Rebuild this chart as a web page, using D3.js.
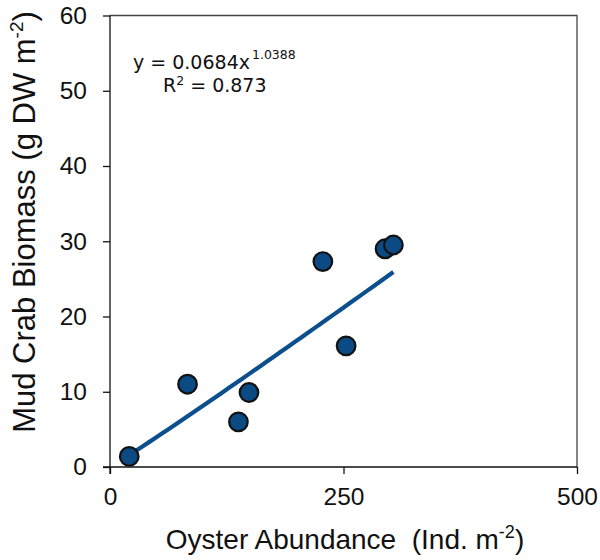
<!DOCTYPE html>
<html>
<head>
<meta charset="utf-8">
<script src="https://cdn.jsdelivr.net/npm/d3@7"></script>
<style>
  html, body { margin: 0; padding: 0; background: #fff; }
  svg { display: block; }
  text { white-space: pre; }
</style>
</head>
<body>
<svg id="chart" width="600" height="560"></svg>
<script>
// Oyster abundance (Ind. m^-2) vs. mud crab biomass (g DW m^-2)
const oysterAbundance = [20.6, 83.0, 137.5, 148.8, 227.9, 252.8, 294.5, 303.4];
const crabBiomass     = [1.4, 11.0, 6.0, 9.9, 27.3, 16.1, 29.0, 29.5];
const xTicks = [0, 250, 500];
const yTicks = [0, 10, 20, 30, 40, 50, 60];
// Power-law fit y = a * x^b
const fitA = 0.0684, fitB = 1.0388, fitR2 = 0.873;

const svg = d3.select("#chart");
const plotLeft = 110, plotRight = 577, plotTop = 15.5, plotBottom = 467;

const x = d3.scaleLinear().domain([0, 500]).range([plotLeft, plotRight]);
const y = d3.scaleLinear().domain([0, 60]).range([plotBottom, plotTop]);

const tickFont = "Liberation Sans, Arial, sans-serif";

// Frame (top and right edges)
svg.append("path")
  .attr("d", `M${plotLeft},${plotTop}H${plotRight}V${plotBottom}`)
  .attr("fill", "none").attr("stroke", "#444").attr("stroke-width", 1.3);

// Axes
const xAxis = svg.append("g").attr("transform", `translate(0,${plotBottom})`)
  .call(d3.axisBottom(x).tickValues(xTicks).tickSize(7).tickPadding(14).tickSizeOuter(0));
const yAxis = svg.append("g").attr("transform", `translate(${plotLeft},0)`)
  .call(d3.axisLeft(y).tickValues(yTicks).tickSize(7).tickPadding(16).tickSizeOuter(0));

[xAxis, yAxis].forEach(g => {
  g.select(".domain").attr("stroke", "#111").attr("stroke-width", 1.3);
  g.selectAll(".tick line").attr("stroke", "#111").attr("stroke-width", 1.3);
  g.selectAll(".tick text").attr("font-family", tickFont).attr("font-size", 24.5).attr("fill", "#111");
});
// Axis lines cross slightly past the origin
yAxis.select(".domain").attr("d", `M0,${plotTop}V${plotBottom + 7}`);
xAxis.select(".domain").attr("d", `M${plotLeft - 7},0H${plotRight}`);

// Trend line over the observed range
const xr = d3.extent(oysterAbundance);
const fitPts = d3.range(0, 41).map(i => {
  const xv = xr[0] + (xr[1] - xr[0]) * i / 40;
  return [xv, fitA * Math.pow(xv, fitB)];
});
svg.append("path")
  .datum(fitPts)
  .attr("d", d3.line().x(d => x(d[0])).y(d => y(d[1])))
  .attr("fill", "none").attr("stroke", "#0b4f8c").attr("stroke-width", 4.2);

// Data points
svg.append("g").selectAll("circle")
  .data(oysterAbundance.map((v, i) => [v, crabBiomass[i]]))
  .join("circle")
  .attr("cx", d => x(d[0])).attr("cy", d => y(d[1]))
  .attr("r", 9.3)
  .attr("fill", "#0b4a82").attr("stroke", "#111").attr("stroke-width", 2.2);

// Equation annotation
const eqFont = "'DejaVu Sans', sans-serif";
const eq = svg.append("text").attr("x", 133).attr("y", 69)
  .attr("font-family", eqFont).attr("font-size", 19).attr("fill", "#111");
eq.append("tspan").text("y = " + fitA + "x");
eq.append("tspan").attr("dx", 2).attr("dy", -10).attr("font-size", 12.5).text(fitB);

const r2 = svg.append("text").attr("x", 163).attr("y", 92)
  .attr("font-family", eqFont).attr("font-size", 19).attr("fill", "#111");
r2.append("tspan").text("R");
r2.append("tspan").attr("dy", -7).attr("font-size", 12.5).text("2");
r2.append("tspan").attr("dy", 7).text(" = " + fitR2);

// Axis titles
const xt = svg.append("text").attr("x", 345).attr("y", 549)
  .attr("text-anchor", "middle").attr("font-family", tickFont)
  .attr("font-size", 28).attr("fill", "#111");
xt.append("tspan").text("Oyster Abundance  (Ind. m");
xt.append("tspan").attr("dy", -11).attr("font-size", 18).text("-2");
xt.append("tspan").attr("dy", 11).text(")");

const yt = svg.append("text")
  .attr("transform", `translate(35,222) rotate(-90)`)
  .attr("text-anchor", "middle").attr("font-family", tickFont)
  .attr("font-size", 31).attr("fill", "#111");
yt.append("tspan").text("Mud Crab Biomass (g DW m");
yt.append("tspan").attr("dy", -12).attr("font-size", 19).text("-2");
yt.append("tspan").attr("dy", 12).text(")");
</script>
</body>
</html>
